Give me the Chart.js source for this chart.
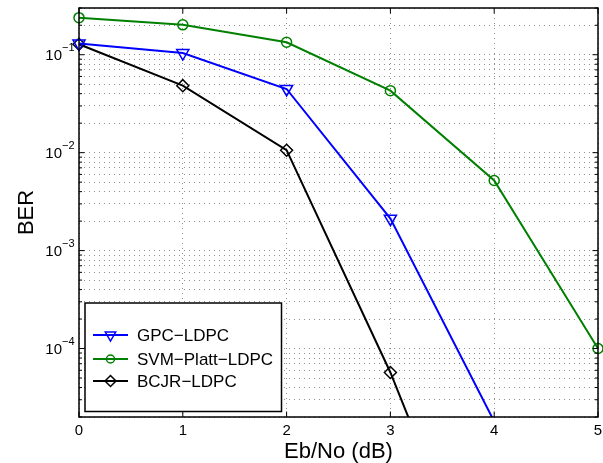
<!DOCTYPE html>
<html>
<head>
<meta charset="utf-8">
<script src="https://cdn.jsdelivr.net/npm/chart.js@4/dist/chart.umd.min.js"></script>
<style>
  html, body { margin: 0; padding: 0; background: #fff; }
  canvas { display: block; }
</style>
</head>
<body>
<canvas id="berChart" width="603" height="463"></canvas>
<script>
// Eb/No (dB)
const ebno = [0, 1, 2, 3, 4, 5];
// 各方式の BER
const gpcLdpc = [0.13, 0.104, 0.0447, 0.00212, 1.8e-5];
const svmPlattLdpc = [0.239, 0.202, 0.134, 0.043, 0.0052, 1.0e-4];
const bcjrLdpc = [0.128, 0.0483, 0.0106, 5.7e-5, 1.3e-7];
const seriesLabels = ['GPC−LDPC', 'SVM−Platt−LDPC', 'BCJR−LDPC'];

// 目盛り
const xTicks = [0, 1, 2, 3, 4, 5];
const xTickLabels = ['0', '1', '2', '3', '4', '5'];
const yMajorTicks = [1e-1, 1e-2, 1e-3, 1e-4];
const yTickExponents = ['−1', '−2', '−3', '−4'];
const yMin = 2e-5;
const yMax = 0.3;

const FONT = '"Liberation Sans", Arial, Helvetica, sans-serif';
const GRID = '#8f8f8f';

// 対数軸の 1〜9 倍の目盛りを作る
function buildLogTicks(min, max) {
    const ticks = [];
    for (let e = Math.floor(Math.log10(min)); e <= Math.ceil(Math.log10(max)); e++) {
        for (let m = 1; m <= 9; m++) {
            const v = m * Math.pow(10, e);
            if (v >= min * 0.999 && v <= max * 1.001) ticks.push({ value: v, major: m === 1 });
        }
    }
    return ticks;
}

function toPoints(ys) {
    return ys.map((y, i) => ({ x: ebno[i], y: y }));
}

const datasets = [
    { label: seriesLabels[0], data: toPoints(gpcLdpc), borderColor: '#0000ff', pointStyle: 'triangle', pointRotation: 180, pointRadius: 7 },
    { label: seriesLabels[1], data: toPoints(svmPlattLdpc), borderColor: '#008000', pointStyle: 'circle', pointRotation: 0, pointRadius: 5 },
    { label: seriesLabels[2], data: toPoints(bcjrLdpc), borderColor: '#000000', pointStyle: 'rectRot', pointRotation: 0, pointRadius: 6 }
].map(ds => Object.assign({
    borderWidth: 2,
    backgroundColor: 'rgba(0,0,0,0)',
    pointBackgroundColor: 'rgba(0,0,0,0)',
    pointBorderColor: ds.borderColor,
    pointBorderWidth: 1.5,
    tension: 0,
    clip: { left: 10, right: 10, top: 0, bottom: 0 }
}, ds));

// 枠・目盛り・ラベル・凡例の描画
const axesDecor = {
    id: 'axesDecor',
    afterDraw(chart) {
        const ctx = chart.ctx;
        const a = chart.chartArea;
        const x = chart.scales.x;
        const y = chart.scales.y;

        function seg(x1, y1, x2, y2) {
            ctx.beginPath();
            ctx.moveTo(x1, y1);
            ctx.lineTo(x2, y2);
            ctx.stroke();
        }

        ctx.save();
        ctx.strokeStyle = '#000';
        ctx.lineWidth = 1;
        y.ticks.forEach(t => {
            const py = y.getPixelForValue(t.value);
            const len = t.major ? 5.5 : 3;
            seg(a.left, py, a.left + len, py);
            seg(a.right, py, a.right - len, py);
        });
        xTicks.forEach(v => {
            const px = x.getPixelForValue(v);
            seg(px, a.bottom, px, a.bottom - 5.5);
            seg(px, a.top, px, a.top + 5.5);
        });

        ctx.lineWidth = 1.5;
        ctx.strokeRect(a.left, a.top, a.right - a.left, a.bottom - a.top);

        // 目盛りラベル
        ctx.fillStyle = '#000';
        ctx.textBaseline = 'middle';
        yMajorTicks.forEach((v, i) => {
            const py = y.getPixelForValue(v);
            ctx.font = '15px ' + FONT;
            ctx.textAlign = 'right';
            ctx.fillText('10', 62, py + 1);
            ctx.font = '11px ' + FONT;
            ctx.textAlign = 'left';
            ctx.fillText(yTickExponents[i], 62, py - 7);
        });
        ctx.font = '15px ' + FONT;
        ctx.textAlign = 'center';
        xTicks.forEach((v, i) => {
            ctx.fillText(xTickLabels[i], x.getPixelForValue(v), 431);
        });

        // 軸タイトル
        ctx.font = '22px ' + FONT;
        ctx.textBaseline = 'alphabetic';
        ctx.fillText('Eb/No (dB)', (a.left + a.right) / 2, 457.5);
        ctx.save();
        ctx.translate(33, (a.top + a.bottom) / 2);
        ctx.rotate(-Math.PI / 2);
        ctx.fillText('BER', 0, 0);
        ctx.restore();

        // 凡例
        const box = { left: 85, top: 303, right: 281.5, bottom: 411.5 };
        ctx.fillStyle = '#fff';
        ctx.fillRect(box.left, box.top, box.right - box.left, box.bottom - box.top);
        ctx.strokeStyle = '#000';
        ctx.lineWidth = 1.5;
        ctx.strokeRect(box.left, box.top, box.right - box.left, box.bottom - box.top);

        const rows = [335, 359, 381];
        const legendRadius = [6, 4, 5.5];
        chart.data.datasets.forEach((ds, i) => {
            const ry = rows[i];
            ctx.strokeStyle = ds.borderColor;
            ctx.lineWidth = 2;
            seg(93, ry, 128, ry);
            ctx.lineWidth = 1.5;
            ctx.fillStyle = 'rgba(0,0,0,0)';
            Chart.helpers.drawPoint(ctx, {
                pointStyle: ds.pointStyle,
                rotation: ds.pointRotation,
                radius: legendRadius[i],
                borderWidth: 1.5
            }, 110.5, ry);
            ctx.fillStyle = '#000';
            ctx.font = '17px ' + FONT;
            ctx.textAlign = 'left';
            ctx.textBaseline = 'middle';
            ctx.fillText(ds.label, 137, ry + 1);
        });
        ctx.restore();
    }
};

new Chart(document.getElementById('berChart').getContext('2d'), {
    type: 'line',
    data: { datasets: datasets },
    options: {
        responsive: false,
        animation: false,
        layout: { padding: { top: 8, right: 5, left: 0, bottom: 0 }, autoPadding: false },
        plugins: { legend: { display: false }, tooltip: { enabled: false } },
        scales: {
            x: {
                type: 'linear',
                min: 0,
                max: 5,
                afterBuildTicks: s => { s.ticks = xTicks.map(v => ({ value: v })); },
                afterFit: s => { s.height = 46; },
                ticks: { display: false },
                grid: { color: GRID, drawTicks: false, lineWidth: 1 },
                border: { display: false, dash: [1, 4] }
            },
            y: {
                type: 'logarithmic',
                min: yMin,
                max: yMax,
                afterBuildTicks: s => { s.ticks = buildLogTicks(yMin, yMax); },
                afterFit: s => { s.width = 79; },
                ticks: { display: false },
                grid: { color: GRID, drawTicks: false, lineWidth: 1 },
                border: { display: false, dash: [1, 4] }
            }
        }
    },
    plugins: [axesDecor]
});
</script>
</body>
</html>
